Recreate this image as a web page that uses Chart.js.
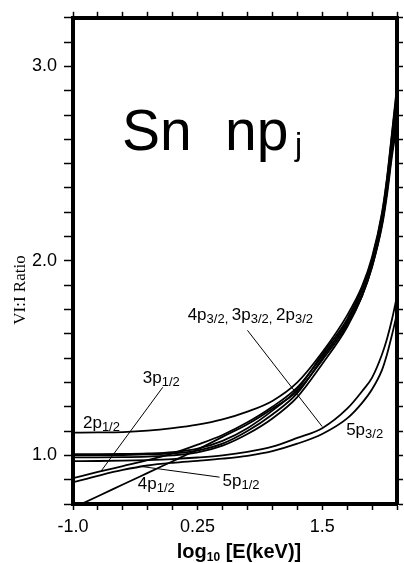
<!DOCTYPE html>
<html>
<head>
<meta charset="utf-8">
<script src="https://cdn.jsdelivr.net/npm/chart.js@4.4.1/dist/chart.umd.min.js"></script>
<style>
  html, body { margin: 0; padding: 0; background: #fff; }
</style>
</head>
<body>
<canvas id="chart" width="404" height="563"></canvas>
<script>
// log10 E(keV) sample points
const energies = [-1.0, -0.75, -0.5, -0.25, 0.0, 0.25, 0.5, 0.75, 1.0, 1.25, 1.5, 1.75, 1.9, 2.0, 2.1, 2.15, 2.2, 2.25]

// VI:I ratio per subshell
const ratio2p12 = [1.117, 1.118, 1.120, 1.127, 1.140, 1.158, 1.185, 1.225, 1.280, 1.375, 1.530, 1.720, 1.870, 2.020, 2.250, 2.430, 2.660, 2.900]
const ratio2p32 = [1.006, 1.006, 1.007, 1.010, 1.017, 1.035, 1.075, 1.140, 1.230, 1.340, 1.520, 1.700, 1.860, 2.010, 2.240, 2.420, 2.650, 2.880]
const ratio3p32 = [1.001, 1.001, 1.002, 1.005, 1.010, 1.025, 1.060, 1.125, 1.210, 1.320, 1.500, 1.690, 1.850, 2.000, 2.230, 2.400, 2.620, 2.850]
const ratio4p32 = [0.990, 0.990, 0.991, 0.994, 1.000, 1.015, 1.050, 1.110, 1.190, 1.300, 1.470, 1.660, 1.820, 1.970, 2.190, 2.360, 2.580, 2.800]
const ratio3p12 = [0.883, 0.915, 0.945, 0.975, 1.010, 1.055, 1.105, 1.170, 1.250, 1.350, 1.510, 1.680, 1.830, 1.980, 2.200, 2.360, 2.560, 2.750]
const ratio4p12 = [0.730, 0.790, 0.850, 0.910, 0.970, 1.030, 1.095, 1.160, 1.240, 1.330, 1.490, 1.670, 1.820, 1.970, 2.180, 2.340, 2.540, 2.700]
const ratio5p12 = [0.862, 0.895, 0.925, 0.948, 0.962, 0.972, 0.983, 0.998, 1.022, 1.060, 1.110, 1.190, 1.270, 1.340, 1.440, 1.520, 1.620, 1.730]
const ratio5p32 = [0.970, 0.971, 0.973, 0.976, 0.981, 0.989, 1.000, 1.018, 1.045, 1.090, 1.140, 1.240, 1.330, 1.400, 1.520, 1.600, 1.700, 1.820]

const xTickValues = [-1.0, 0.25, 1.5]
const xTickLabels = ['-1.0', '0.25', '1.5']
const yTickValues = [1.0, 2.0, 3.0]
const yTickLabels = ['1.0', '2.0', '3.0']

// leader lines, in data units: [x1, y1, x2, y2]
const pointers = [
  [0.75, 1.643, 1.50, 1.148],
  [-0.10, 1.350, -0.72, 0.918],
  [-0.33, 0.944, 0.47, 0.888]
]

// curve labels: anchor (left, baseline) in data units, parts [text, isSubscript]
const curveLabels = [
  { x: -0.90, y: 1.143, parts: [['2p'], ['1/2', 1]] },
  { x: -0.30, y: 1.372, parts: [['3p'], ['1/2', 1]] },
  { x: -0.35, y: 0.827, parts: [['4p'], ['1/2', 1]] },
  { x: 0.50, y: 0.845, parts: [['5p'], ['1/2', 1]] },
  { x: 1.74, y: 1.107, parts: [['5p'], ['3/2', 1]] },
  { x: 0.15, y: 1.694, parts: [['4p'], ['3/2', 1], [', ', 1], ['3p'], ['3/2', 1], [', ', 1], ['2p'], ['3/2', 1]] }
]

const SANS = '"Liberation Sans", Arial, sans-serif'

function drawParts(ctx, px, py, parts, size, subSize, weight) {
  let cx = px
  for (const [text, sub] of parts) {
    ctx.font = (weight || '') + ' ' + (sub ? subSize : size) + 'px ' + SANS
    ctx.fillText(text, cx, sub ? py + 3 : py)
    cx += ctx.measureText(text).width
  }
  return cx - px
}

function partsWidth(ctx, parts, size, subSize, weight) {
  let w = 0
  for (const [text, sub] of parts) {
    ctx.font = (weight || '') + ' ' + (sub ? subSize : size) + 'px ' + SANS
    w += ctx.measureText(text).width
  }
  return w
}

const annotate = {
  id: 'annotate',
  afterDraw(chart) {
    const { ctx, chartArea, scales: { x, y } } = chart
    ctx.save()
    ctx.strokeStyle = '#000'
    ctx.fillStyle = '#000'
    ctx.lineWidth = 1
    for (const [x1, y1, x2, y2] of pointers) {
      ctx.beginPath()
      ctx.moveTo(x.getPixelForValue(x1), y.getPixelForValue(y1))
      ctx.lineTo(x.getPixelForValue(x2), y.getPixelForValue(y2))
      ctx.stroke()
    }

    ctx.textAlign = 'left'
    ctx.textBaseline = 'alphabetic'
    for (const lab of curveLabels) {
      drawParts(ctx, x.getPixelForValue(lab.x), y.getPixelForValue(lab.y), lab.parts, 17, 13)
    }

    // big panel title
    ctx.font = '57px ' + SANS
    ctx.fillText('Sn', chartArea.left + 49, chartArea.top + 132)
    ctx.fillText('np', chartArea.left + 152, chartArea.top + 132)
    ctx.font = '32px ' + SANS
    ctx.fillText('j', chartArea.left + 222, chartArea.top + 137)

    // x axis title
    const xt = [['log'], ['10', 1], [' [E(keV)]']]
    const w = partsWidth(ctx, xt, 20, 12, 'bold')
    drawParts(ctx, (chartArea.left + chartArea.right) / 2 + 4 - w / 2, 558, xt, 20, 12, 'bold')

    // y axis title
    ctx.translate(21, 290)
    ctx.rotate(-Math.PI / 2)
    ctx.textAlign = 'center'
    ctx.textBaseline = 'middle'
    ctx.font = '17px "Liberation Serif", "Times New Roman", serif'
    ctx.fillText('VI:I Ratio', 0, 0)
    ctx.restore()
  }
}

function pickLabel(values, labels) {
  return (v) => {
    const i = values.findIndex(t => Math.abs(t - v) < 1e-6)
    return i >= 0 ? labels[i] : ''
  }
}

function curve(values) {
  return {
    data: energies.map((e, i) => ({ x: e, y: values[i] })),
    borderColor: '#000',
    borderWidth: 1.8,
    pointRadius: 0,
    cubicInterpolationMode: 'monotone',
    fill: false
  }
}

const frame = { display: true, width: 4, color: '#000' }
const tickGrid = (len) => ({ drawOnChartArea: false, drawTicks: true, tickLength: len, tickWidth: 1.5, tickColor: '#000' })

new Chart(document.getElementById('chart'), {
  type: 'line',
  data: {
    datasets: [ratio2p12, ratio2p32, ratio3p32, ratio4p32, ratio3p12, ratio4p12, ratio5p12, ratio5p32].map(curve)
  },
  options: {
    responsive: false,
    animation: false,
    devicePixelRatio: 1,
    layout: { padding: 0 },
    plugins: { legend: { display: false }, tooltip: { enabled: false } },
    scales: {
      x: {
        type: 'linear', position: 'bottom', min: -1, max: 2.25,
        border: frame, grid: tickGrid(6),
        ticks: { stepSize: 0.25, autoSkip: false, maxRotation: 0, padding: 6, color: '#000',
          font: { family: SANS, size: 18 }, callback: pickLabel(xTickValues, xTickLabels) },
        afterFit: (s) => { s.height = 59 }
      },
      x2: {
        type: 'linear', position: 'top', min: -1, max: 2.25,
        border: frame, grid: tickGrid(6),
        ticks: { stepSize: 0.25, display: false },
        afterFit: (s) => { s.height = 16 }
      },
      y: {
        type: 'linear', position: 'left', min: 0.75, max: 3.25,
        border: frame, grid: tickGrid(9),
        ticks: { stepSize: 0.125, autoSkip: false, padding: 7, color: '#000',
          font: { family: SANS, size: 18 }, callback: pickLabel(yTickValues, yTickLabels) },
        afterFit: (s) => { s.width = 73 }
      },
      y2: {
        type: 'linear', position: 'right', min: 0.75, max: 3.25,
        border: frame, grid: tickGrid(6),
        ticks: { stepSize: 0.125, display: false },
        afterFit: (s) => { s.width = 7 }
      }
    }
  },
  plugins: [annotate]
})
</script>
</body>
</html>
